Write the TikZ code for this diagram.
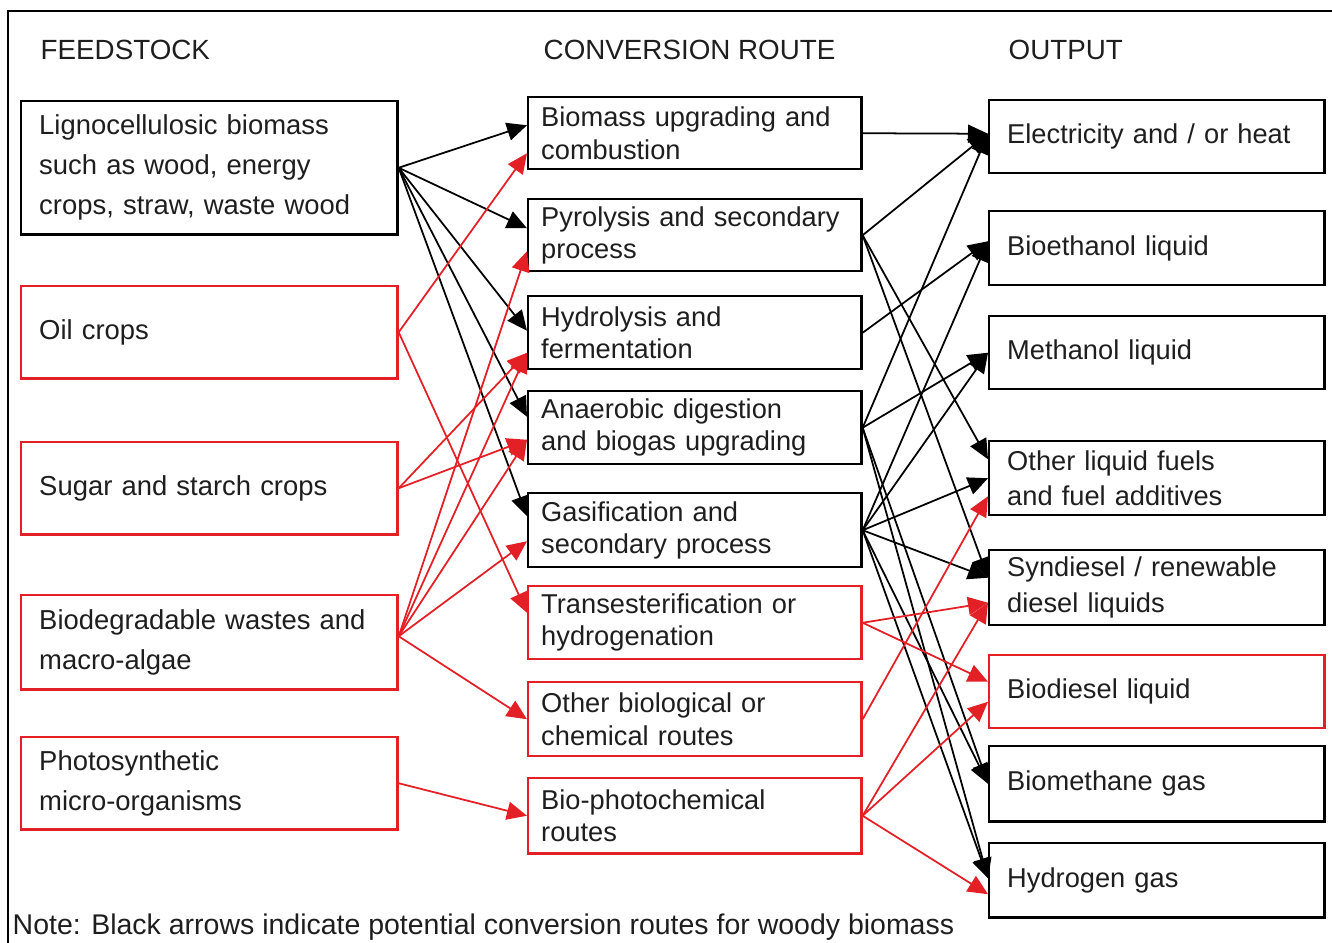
\documentclass[tikz,border=0pt]{standalone}
\usepackage{fontspec}
\setmainfont{Liberation Sans}
\usetikzlibrary{arrows.meta,calc}

\definecolor{routered}{RGB}{226,32,38}
\definecolor{inkgrey}{RGB}{30,30,30}

\begin{document}
\begin{tikzpicture}[x=0.01cm,y=-0.01cm,
    box/.style={rectangle,draw=black,line width=0.7pt,anchor=north west,align=left,text=inkgrey,inner ysep=0pt},
    redbox/.style={box,draw=routered},
    feed/.style={minimum width=3.76cm,text width=3.40cm,inner xsep=0.18cm,minimum height=#1,font=\fontsize{7.8}{11.4}\selectfont},
    conv/.style={minimum width=3.33cm,text width=3.07cm,inner xsep=0.13cm,minimum height=#1,font=\fontsize{7.75}{9.2}\selectfont},
    outp/.style={minimum width=3.35cm,text width=2.99cm,inner xsep=0.18cm,minimum height=#1,font=\fontsize{7.75}{10.2}\selectfont},
    head/.style={anchor=west,inner sep=0pt,text=inkgrey,font=\fontsize{7.9}{10}\selectfont},
    blk/.style={draw=black,line width=0.5pt,-{Triangle[length=2mm,width=1.8mm]}},
    rd/.style={draw=routered,line width=0.5pt,-{Triangle[length=2mm,width=1.8mm]}}]

\useasboundingbox (0,0) rectangle (1332,943);
\draw[line width=0.8pt] (8,943) -- (8,11) -- (1332,11);

% column heads
\node[head] (hfeed) at (40,50) {FEEDSTOCK};
\node[head] (hconv) at (543,50) {CONVERSION ROUTE};
\node[head] (hout) at (1008,50) {OUTPUT};

% feedstock
\node[box,feed=1.33cm] (lig) at (20,100) {Lignocellulosic biomass\\such as wood, energy\\crops, straw, waste wood};
\node[redbox,feed=0.92cm] (oil) at (20,285) {Oil crops};
\node[redbox,feed=0.92cm] (sugar) at (20,441) {Sugar and starch crops};
\node[redbox,feed=0.94cm] (waste) at (20,594) {Biodegradable wastes and\\macro-algae};
\node[redbox,feed=0.92cm] (photo) at (20,736) {Photosynthetic\\micro-organisms};

% conversion routes
\node[box,conv=0.72cm] (upgr) at (527,96) {Biomass upgrading and\\combustion};
\node[box,conv=0.72cm] (pyro) at (527,198) {Pyrolysis and secondary\\process};
\node[box,conv=0.73cm] (hydro) at (527,295) {Hydrolysis and\\fermentation};
\node[box,conv=0.73cm] (anae) at (527,390) {Anaerobic digestion\\and biogas upgrading};
\node[box,conv=0.74cm] (gasi) at (527,492) {Gasification and\\secondary process};
\node[redbox,conv=0.73cm] (trans) at (527,585) {Transesterification or\\hydrogenation};
\node[redbox,conv=0.74cm] (obio) at (527,681) {Other biological or\\chemical routes};
\node[redbox,conv=0.75cm] (bioph) at (527,777) {Bio-photochemical\\routes};

% outputs
\node[box,outp=0.73cm] (elec) at (988,99) {Electricity and / or heat};
\node[box,outp=0.74cm] (ethanol) at (988,210) {Bioethanol liquid};
\node[box,outp=0.73cm] (methanol) at (988,315) {Methanol liquid};
\node[box,outp=0.74cm] (oliq) at (988,440) {Other liquid fuels\\and fuel additives};
\node[box,outp=0.75cm] (syndi) at (988,549) {Syndiesel / renewable\\diesel liquids};
\node[redbox,outp=0.73cm] (biodi) at (988,654) {Biodiesel liquid};
\node[box,outp=0.75cm] (bmeth) at (988,745) {Biomethane gas};
\node[box,outp=0.74cm] (hydrog) at (988,842) {Hydrogen gas};

% feedstock -> conversion
\foreach \t/\d in {upgr/-8,pyro/-7,hydro/-2,anae/-11,gasi/-14}
    \draw[blk] (lig.east) -- ($(\t.west)+(0,\d)$);
\draw[rd] (oil.east) -- ($(upgr.west)+(0,20)$);
\draw[rd] (oil.east) -- ($(trans.west)+(0,-10)$);
\draw[rd] (sugar.east) -- ($(hydro.west)+(0,20)$);
\draw[rd] (sugar.east) -- ($(anae.west)+(0,12)$);
\foreach \t/\d in {pyro/16,hydro/20,anae/12,gasi/11,obio/0}
    \draw[rd] ($(waste.east)+(0,-6)$) -- ($(\t.west)+(0,\d)$);
\draw[rd] (photo.east) -- (bioph.west);

% conversion -> output
\foreach \s/\t/\d in {upgr/elec/-3,pyro/elec/-3,anae/elec/-3,hydro/ethanol/-7,gasi/ethanol/-7,
    anae/methanol/0,gasi/methanol/0,pyro/oliq/-19,gasi/oliq/0,pyro/syndi/-10,gasi/syndi/-10,
    anae/bmeth/0,gasi/bmeth/0,anae/hydrog/-2,gasi/hydrog/-2}
    \draw[blk] (\s.east) -- ($(\t.west)+(0,\d)$);
\foreach \s/\t/\d in {obio/oliq/18,trans/syndi/15,bioph/syndi/15,trans/biodi/-10,bioph/biodi/10,bioph/hydrog/14}
    \draw[rd] (\s.east) -- ($(\t.west)+(0,\d)$);

\node[head,font=\fontsize{8.1}{10}\selectfont] (note) at (12,927) {Note: Black arrows indicate potential conversion routes for woody biomass};
\end{tikzpicture}
\end{document}
